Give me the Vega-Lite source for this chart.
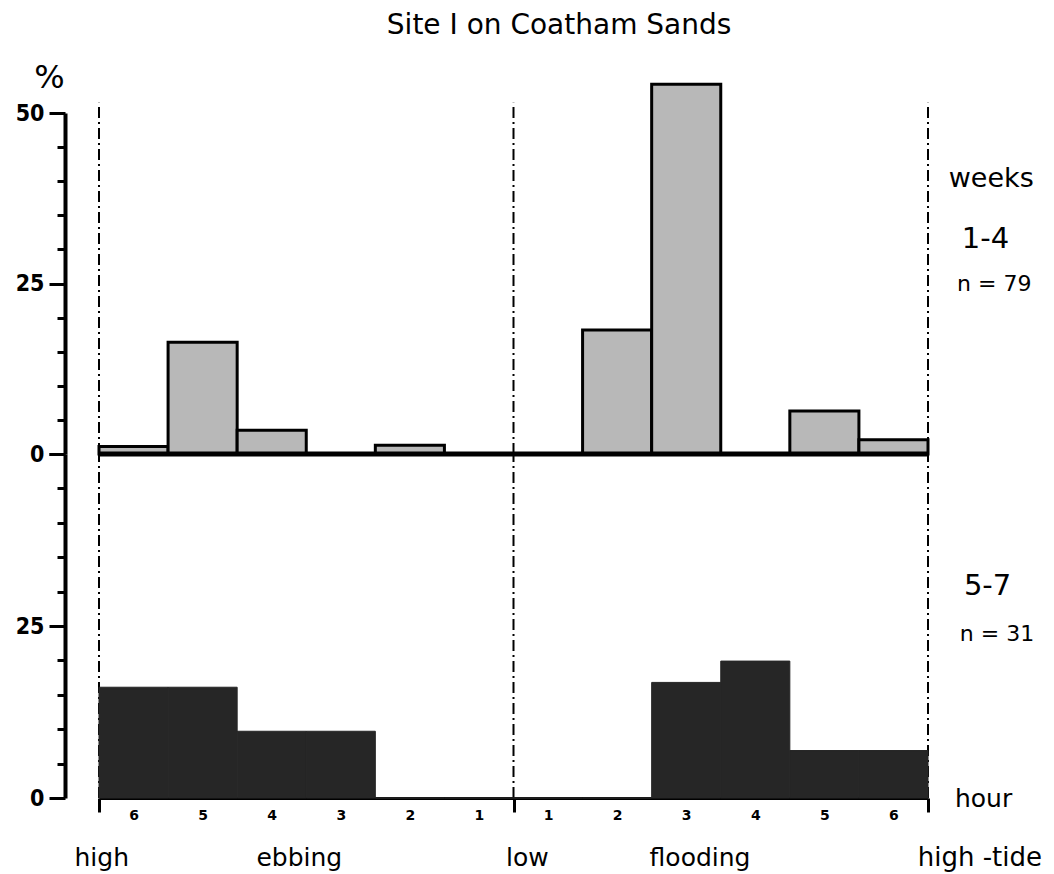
{
  "$schema": "https://vega.github.io/schema/vega-lite/v6.json",
  "background": "white",
  "padding": {"left": 15, "top": 11, "right": 4, "bottom": 4},
  "bounds": "flush",
  "spacing": 0,
  "config": {
    "view": {"stroke": null},
    "font": "DejaVu Sans",
    "text": {"font": "DejaVu Sans", "color": "black"}
  },
  "datasets": {
    "weeks_1_4": [
      {"tide": "ebbing", "hour": 6, "start": 0, "end": 1, "pct": 1.1},
      {"tide": "ebbing", "hour": 5, "start": 1, "end": 2, "pct": 16.4},
      {"tide": "ebbing", "hour": 4, "start": 2, "end": 3, "pct": 3.5},
      {"tide": "ebbing", "hour": 3, "start": 3, "end": 4, "pct": 0},
      {"tide": "ebbing", "hour": 2, "start": 4, "end": 5, "pct": 1.3},
      {"tide": "ebbing", "hour": 1, "start": 5, "end": 6, "pct": 0},
      {"tide": "flooding", "hour": 1, "start": 6, "end": 7, "pct": 0},
      {"tide": "flooding", "hour": 2, "start": 7, "end": 8, "pct": 18.2},
      {"tide": "flooding", "hour": 3, "start": 8, "end": 9, "pct": 54.2},
      {"tide": "flooding", "hour": 4, "start": 9, "end": 10, "pct": 0},
      {"tide": "flooding", "hour": 5, "start": 10, "end": 11, "pct": 6.3},
      {"tide": "flooding", "hour": 6, "start": 11, "end": 12, "pct": 2.1}
    ],
    "weeks_5_7": [
      {"tide": "ebbing", "hour": 6, "start": 0, "end": 1, "pct": 16.1},
      {"tide": "ebbing", "hour": 5, "start": 1, "end": 2, "pct": 16.1},
      {"tide": "ebbing", "hour": 4, "start": 2, "end": 3, "pct": 9.7},
      {"tide": "ebbing", "hour": 3, "start": 3, "end": 4, "pct": 9.7},
      {"tide": "ebbing", "hour": 2, "start": 4, "end": 5, "pct": 0},
      {"tide": "ebbing", "hour": 1, "start": 5, "end": 6, "pct": 0},
      {"tide": "flooding", "hour": 1, "start": 6, "end": 7, "pct": 0},
      {"tide": "flooding", "hour": 2, "start": 7, "end": 8, "pct": 0},
      {"tide": "flooding", "hour": 3, "start": 8, "end": 9, "pct": 16.8},
      {"tide": "flooding", "hour": 4, "start": 9, "end": 10, "pct": 19.9},
      {"tide": "flooding", "hour": 5, "start": 10, "end": 11, "pct": 6.9},
      {"tide": "flooding", "hour": 6, "start": 11, "end": 12, "pct": 6.9}
    ],
    "tides": [
      {"tide": "high", "time": 0},
      {"tide": "low", "time": 6},
      {"tide": "high", "time": 12}
    ],
    "one": [{}]
  },
  "vconcat": [
    {
      "width": 829,
      "height": 341,
      "layer": [
        {
          "data": {"name": "tides"},
          "mark": {"type": "rule", "color": "black", "strokeWidth": 2, "strokeDash": [11, 4, 2, 4]},
          "encoding": {
            "x": {"field": "time", "type": "quantitative", "scale": {"domain": [0, 12], "nice": false, "zero": false}, "axis": null},
            "y": {
              "datum": 0, "type": "quantitative", "scale": {"domain": [0, 50], "nice": false},
              "axis": {
                "values": [0, 5, 10, 15, 20, 25, 30, 35, 40, 45, 50],
                "tickCount": 30,
                "labelExpr": "datum.value % 25 === 0 ? datum.label : ''",
                "labelOverlap": false,
                "offset": 34,
                "grid": false,
                "domainColor": "black", "domainWidth": 4,
                "tickColor": "black", "tickWidth": 3,
                "tickSize": {"condition": {"test": "datum.value % 25 === 0", "value": 16}, "value": 8},
                "labelFont": "DejaVu Sans Condensed", "labelFontWeight": "bold", "labelColor": "black",
                "labelFontSize": 23,
                "labelPadding": 5,
                "title": "%", "titleAngle": 0, "titleFont": "DejaVu Sans", "titleFontWeight": "normal", "titleFontSize": 32,
                "titleColor": "black", "titleAlign": "center", "titleBaseline": "middle", "titleX": -16, "titleY": -36
              }
            },
            "y2": {"datum": 51.5}
          }
        },
        {
          "data": {"name": "weeks_1_4"},
          "mark": {"type": "rect", "fill": "#b8b8b8", "stroke": "black", "strokeWidth": 3},
          "encoding": {
            "x": {"field": "start", "type": "quantitative"},
            "x2": {"field": "end"},
            "y": {"field": "pct", "type": "quantitative"},
            "y2": {"datum": 0}
          }
        },
        {
          "data": {"name": "one"},
          "mark": {"type": "rule", "color": "black", "strokeWidth": 5},
          "encoding": {"y": {"datum": 0, "type": "quantitative"}}
        },
        {
          "data": {"name": "one"},
          "mark": {"type": "text", "fontSize": 28, "align": "center", "baseline": "middle"},
          "encoding": {"x": {"datum": 6.66, "type": "quantitative"}, "y": {"datum": 62.8, "type": "quantitative"}, "text": {"value": "Site I on Coatham Sands"}}
        },
        {
          "data": {"name": "one"},
          "mark": {"type": "text", "fontSize": 27, "align": "left", "baseline": "middle"},
          "encoding": {"x": {"datum": 12.3, "type": "quantitative"}, "y": {"datum": 40.3, "type": "quantitative"}, "text": {"value": "weeks"}}
        },
        {
          "data": {"name": "one"},
          "mark": {"type": "text", "fontSize": 29, "align": "left", "baseline": "middle"},
          "encoding": {"x": {"datum": 12.49, "type": "quantitative"}, "y": {"datum": 31.5, "type": "quantitative"}, "text": {"value": "1-4"}}
        },
        {
          "data": {"name": "one"},
          "mark": {"type": "text", "fontSize": 22, "align": "left", "baseline": "middle"},
          "encoding": {"x": {"datum": 12.42, "type": "quantitative"}, "y": {"datum": 25.0, "type": "quantitative"}, "text": {"value": "n = 79"}}
        }
      ]
    },
    {
      "width": 829,
      "height": 344,
      "layer": [
        {
          "data": {"name": "tides"},
          "mark": {"type": "rule", "color": "black", "strokeWidth": 2, "strokeDash": [11, 4, 2, 4]},
          "encoding": {
            "x": {
              "field": "time", "type": "quantitative", "scale": {"domain": [0, 12], "nice": false, "zero": false},
              "axis": {
                "values": [0, 0.5, 1.5, 2.5, 3.5, 4.5, 5.5, 6, 6.5, 7.5, 8.5, 9.5, 10.5, 11.5, 12],
                "tickCount": 30,
                "labelExpr": "datum.value % 1 === 0.5 ? (datum.value < 6 ? 6 - floor(datum.value) : floor(datum.value) - 5) + '' : ''",
                "grid": false,
                "domainColor": "black", "domainWidth": 3,
                "tickColor": "black", "tickWidth": 3,
                "tickSize": {"condition": {"test": "datum.value % 6 === 0", "value": 14}, "value": 0},
                "labelFont": "DejaVu Sans", "labelFontWeight": "bold", "labelFontSize": 14, "labelColor": "black",
                "labelPadding": 10, "labelFlush": false, "labelOverlap": false,
                "title": null
              }
            },
            "y": {
              "datum": 0, "type": "quantitative", "scale": {"domain": [0, 50], "nice": false},
              "axis": {
                "values": [0, 5, 10, 15, 20, 25, 30, 35, 40, 45, 50],
                "tickCount": 30,
                "labelExpr": "datum.value === 0 || datum.value === 25 ? datum.label : ''",
                "labelOverlap": false,
                "offset": 34,
                "grid": false,
                "domainColor": "black", "domainWidth": 4,
                "tickColor": "black", "tickWidth": 3,
                "tickSize": {"condition": {"test": "datum.value % 25 === 0", "value": 16}, "value": 8},
                "labelFont": "DejaVu Sans Condensed", "labelFontWeight": "bold", "labelColor": "black",
                "labelFontSize": 23,
                "labelPadding": 5,
                "title": null
              }
            },
            "y2": {"datum": 50}
          }
        },
        {
          "data": {"name": "weeks_5_7"},
          "mark": {"type": "rect", "fill": "#262626", "stroke": "#262626", "strokeWidth": 1},
          "encoding": {
            "x": {"field": "start", "type": "quantitative"},
            "x2": {"field": "end"},
            "y": {"field": "pct", "type": "quantitative"},
            "y2": {"datum": 0}
          }
        },
        {
          "data": {"name": "one"},
          "mark": {"type": "text", "fontSize": 29, "align": "left", "baseline": "middle"},
          "encoding": {"x": {"datum": 12.52, "type": "quantitative"}, "y": {"datum": 30.8, "type": "quantitative"}, "text": {"value": "5-7"}}
        },
        {
          "data": {"name": "one"},
          "mark": {"type": "text", "fontSize": 22, "align": "left", "baseline": "middle"},
          "encoding": {"x": {"datum": 12.46, "type": "quantitative"}, "y": {"datum": 23.8, "type": "quantitative"}, "text": {"value": "n = 31"}}
        },
        {
          "data": {"name": "one"},
          "mark": {"type": "text", "fontSize": 25, "align": "left", "baseline": "middle"},
          "encoding": {"x": {"datum": 12.39, "type": "quantitative"}, "y": {"datum": -0.1, "type": "quantitative"}, "text": {"value": "hour"}}
        },
        {
          "data": {"name": "one"},
          "mark": {"type": "text", "fontSize": 25, "align": "center", "baseline": "alphabetic"},
          "encoding": {"x": {"datum": 0.04, "type": "quantitative"}, "y": {"datum": -9.9, "type": "quantitative"}, "text": {"value": "high"}}
        },
        {
          "data": {"name": "one"},
          "mark": {"type": "text", "fontSize": 25, "align": "center", "baseline": "alphabetic"},
          "encoding": {"x": {"datum": 2.9, "type": "quantitative"}, "y": {"datum": -9.9, "type": "quantitative"}, "text": {"value": "ebbing"}}
        },
        {
          "data": {"name": "one"},
          "mark": {"type": "text", "fontSize": 25, "align": "center", "baseline": "alphabetic"},
          "encoding": {"x": {"datum": 6.2, "type": "quantitative"}, "y": {"datum": -9.9, "type": "quantitative"}, "text": {"value": "low"}}
        },
        {
          "data": {"name": "one"},
          "mark": {"type": "text", "fontSize": 25, "align": "center", "baseline": "alphabetic"},
          "encoding": {"x": {"datum": 8.7, "type": "quantitative"}, "y": {"datum": -9.9, "type": "quantitative"}, "text": {"value": "flooding"}}
        },
        {
          "data": {"name": "one"},
          "mark": {"type": "text", "fontSize": 26, "align": "center", "baseline": "alphabetic"},
          "encoding": {"x": {"datum": 12.75, "type": "quantitative"}, "y": {"datum": -9.9, "type": "quantitative"}, "text": {"value": "high -tide"}}
        }
      ]
    }
  ]
}
